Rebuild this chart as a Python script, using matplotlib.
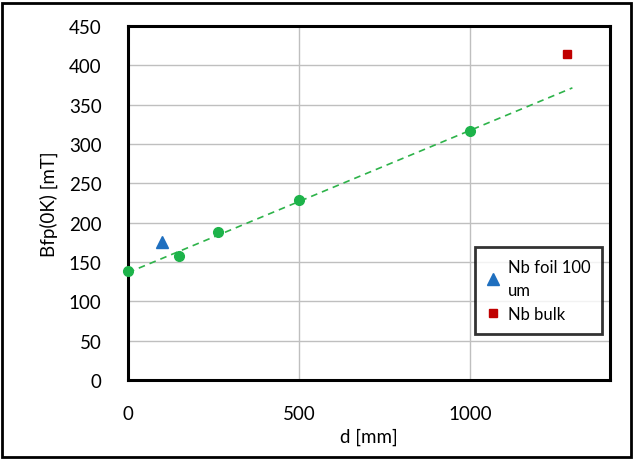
import matplotlib
matplotlib.use("Agg")
import matplotlib.pyplot as plt
import numpy as np
from matplotlib.patches import Rectangle

plt.rcParams['font.family'] = ['Lato', 'DejaVu Sans']

d_green = [0, 150, 262, 500, 1000]
b_green = [138, 157, 188, 229, 316]
d_foil = [100]
b_foil = [175]
d_bulk = [1284]
b_bulk = [414]
fit_x = [0, 1300]

fig = plt.figure(figsize=(6.34, 4.6), dpi=100)
ax = fig.add_axes([128/634, 1-381/460, (610-128)/634, (381-27)/460])

ax.set_xlim(0, 1410)
ax.set_ylim(0, 450)
ax.set_xticks([0, 500, 1000])
ax.set_yticks(np.arange(0, 451, 50))
ax.grid(True, color='#bfbfbf', linewidth=1)
ax.set_axisbelow(True)
for s in ax.spines.values():
    s.set_linewidth(2.2)
    s.set_color('black')
ax.tick_params(length=0, labelsize=13.5, pad=18)
ax.tick_params(axis='y', pad=19)

coef = np.polyfit(d_green, b_green, 1)
fx = np.array(fit_x)
ax.plot(fx, np.polyval(coef, fx), linestyle=(0, (4, 3)), color='#2eb34a', linewidth=1.2, zorder=2)
ax.plot(d_green, b_green, 'o', color='#1db34a', markersize=7, zorder=3, clip_on=False)
ax.plot(d_foil, b_foil, '^', color='#1f6fbf', markersize=8, zorder=3, label='Nb foil 100\num')
ax.plot(d_bulk, b_bulk, 's', color='#c00000', markersize=6, zorder=3, label='Nb bulk')

ax.set_xlabel('d [mm]', fontsize=13.5, labelpad=4)
ax.set_ylabel('Bfp(0K) [mT]', fontsize=13.5, labelpad=8)

leg = ax.legend(loc='upper left', bbox_to_anchor=((475-128)/482, 1-(248-27)/354),
                borderaxespad=0, fontsize=12, frameon=True, fancybox=False, handlelength=0.8,
                handletextpad=0.45, borderpad=0.7, labelspacing=0.5)
for t in leg.get_texts():
    t.set_linespacing(1.55)
leg.get_frame().set_edgecolor('black')
leg.get_frame().set_linewidth(2)

fig.patches.append(Rectangle((2/634, 2/460), 629/634, 454/460, transform=fig.transFigure,
                             fill=False, edgecolor='black', linewidth=2))

fig.savefig('out.png', dpi=100)
